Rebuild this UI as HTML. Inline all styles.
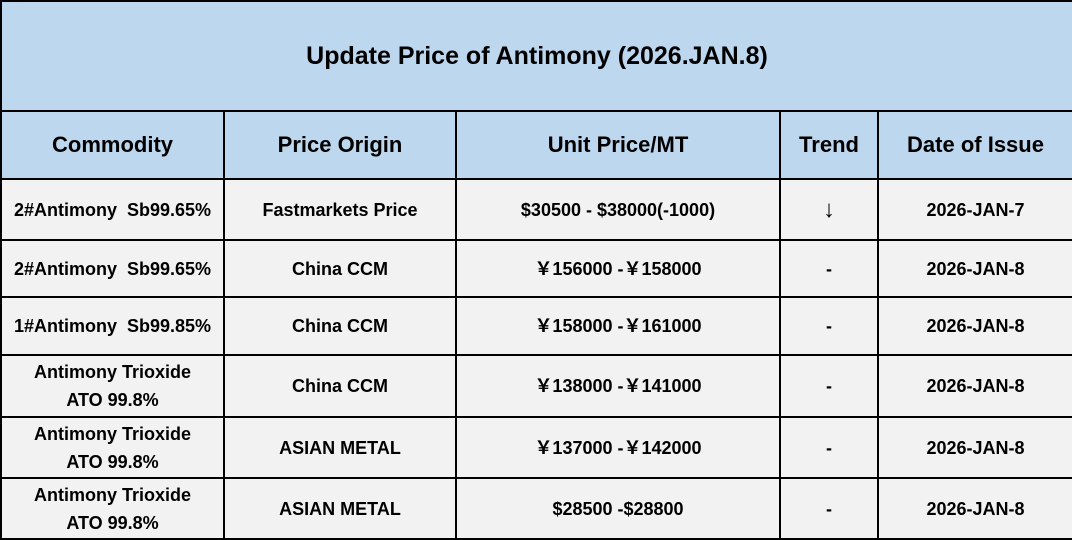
<!DOCTYPE html>
<html><head><meta charset="utf-8"><style>
html,body{margin:0;padding:0;background:#fff;}
table{position:absolute;left:0;top:0;border-collapse:collapse;table-layout:fixed;width:1072px;font-family:"Liberation Sans","Noto Sans CJK SC",sans-serif;font-weight:bold;color:#000;}
td{border:2px solid #000;text-align:center;padding:0;font-size:18px;line-height:28px;background:#f2f2f2;}
.t td{background:#bdd7ee;font-size:25px;height:108px;}
.h td{background:#bdd7ee;font-size:22px;height:66px;}
</style></head><body>
<table>
<colgroup><col style="width:223px"><col style="width:232px"><col style="width:324px"><col style="width:98px"><col style="width:195px"></colgroup>
<tr class="t"><td colspan="5">Update Price of Antimony (2026.JAN.8)</td></tr>
<tr class="h"><td>Commodity</td><td>Price Origin</td><td>Unit Price/MT</td><td>Trend</td><td>Date of Issue</td></tr>
<tr style="height:61px"><td>2#Antimony&nbsp; Sb99.65%</td><td>Fastmarkets Price</td><td>$30500 - $38000(-1000)</td><td style="font-size:24px;font-weight:normal">↓</td><td>2026-JAN-7</td></tr>
<tr style="height:57px"><td>2#Antimony&nbsp; Sb99.65%</td><td>China CCM</td><td>￥156000 -￥158000</td><td>-</td><td>2026-JAN-8</td></tr>
<tr style="height:58px"><td>1#Antimony&nbsp; Sb99.85%</td><td>China CCM</td><td>￥158000 -￥161000</td><td>-</td><td>2026-JAN-8</td></tr>
<tr style="height:62px"><td>Antimony Trioxide<br>ATO 99.8%</td><td>China CCM</td><td>￥138000 -￥141000</td><td>-</td><td>2026-JAN-8</td></tr>
<tr style="height:61px"><td>Antimony Trioxide<br>ATO 99.8%</td><td>ASIAN METAL</td><td>￥137000 -￥142000</td><td>-</td><td>2026-JAN-8</td></tr>
<tr style="height:61px"><td>Antimony Trioxide<br>ATO 99.8%</td><td>ASIAN METAL</td><td>$28500 -$28800</td><td>-</td><td>2026-JAN-8</td></tr>
</table>
</body></html>
